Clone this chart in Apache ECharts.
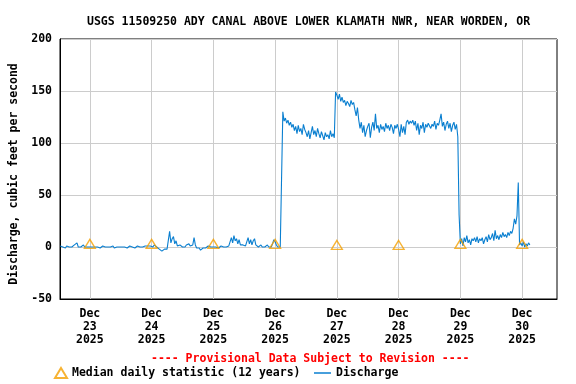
<!DOCTYPE html>
<html><head><meta charset="utf-8">
<script src="https://cdn.jsdelivr.net/npm/echarts@6/dist/echarts.min.js"></script>
<style>html,body{margin:0;padding:0;background:#fff}#c{width:576px;height:384px}</style>
</head><body><div id="c"></div>
<script>
const titleText = 'USGS 11509250 ADY CANAL ABOVE LOWER KLAMATH NWR, NEAR WORDEN, OR';
const noteText = '---- Provisional Data Subject to Revision ----';
const yAxisName = 'Discharge, cubic feet per second';
const medianName = 'Median daily statistic (12 years)';
const seriesName = 'Discharge';
const dayLabels = ['Dec\n23\n2025','Dec\n24\n2025','Dec\n25\n2025','Dec\n26\n2025','Dec\n27\n2025','Dec\n28\n2025','Dec\n29\n2025','Dec\n30\n2025'];
const dayHours = [0, 24, 48, 72, 96, 120, 144, 168];
const yMin = -50, yMax = 200, yStep = 50;
const xMinHours = -11.6, xMaxHours = 181.55;

// discharge, 30-minute readings, starting Dec 22 12:30 (hours relative to Dec 23 00:00)
const START_HOUR = -11.5;
const STEP_HOURS = 0.5;
const dec22 = [1,2,0,0,-1,1,0,0,1,0,1,2,1,4,0,1,0,1,2,0,1,0,1];
const dec23 = [0,1,0,-1,0,1,0,0,-1,0,1,0,0,-1,0,1,0,0,1,-1,0,0,-1,0,1,0,-1,0,0,-1,0,1,0,0,-1,-1,0,1,0,0,-1,0,0,1,0,1,0,1];
const dec24 = [1,0,2,1,0,-1,-2,-3,-4,-3,-2,-3,-2,-1,15,4,8,10,3,6,1,0,2,1,0,1,0,2,1,3,1,0,2,9,2,-1,-2,-1,-3,-2,-1,-2,-1,0,1,0,0,1];
const dec25 = [0,1,0,0,-1,0,1,0,0,1,0,0,1,2,9,4,11,6,8,3,7,2,1,2,1,1,2,9,3,7,2,6,8,2,1,0,1,2,0,1,0,1,2,0,1,0,3,7];
const dec26 = [5,2,0,1,0,0,130,121,124,119,122,117,120,115,118,112,116,109,117,111,114,108,118,113,110,106,112,104,110,116,108,112,106,114,109,105,111,107,103,110,106,108,104,112,106,109,105,149];
const dec27 = [146,142,147,140,144,139,141,136,140,138,135,141,137,139,132,126,134,122,114,120,110,117,106,112,116,119,105,115,120,112,128,114,117,110,118,113,116,111,119,114,117,112,118,115,109,117,114,118];
const dec28 = [113,106,118,110,116,108,120,122,118,121,119,122,117,121,112,119,108,117,114,120,110,118,115,119,120,114,118,116,121,113,119,117,122,128,116,120,112,118,121,114,119,111,117,120,113,118,106,31];
const dec29 = [3,8,1,9,5,11,4,7,2,8,6,9,5,10,4,8,6,9,3,7,10,5,12,7,9,13,6,16,8,11,7,12,9,14,10,12,9,14,11,15,13,18,27,22,30,62,2,4];
const dec30 = [1,5,0,3,1,4,2];

const medianValues = [3, 3, 3, 3, 2, 2, 3, 3];

const discharge = [].concat(dec22, dec23, dec24, dec25, dec26, dec27, dec28, dec29, dec30);
const dischargeData = discharge.map((v, i) => [START_HOUR + i * STEP_HOURS, v]);
const medianData = dayHours.map((h, i) => [h, medianValues[i]]);

const FONT = 'DejaVu Sans Mono';
const txt = { fontFamily: FONT, fontWeight: 'bold', fontSize: 11.5, color: '#000' };
const BLUE = '#0a7fd0';
const ORANGE = '#f5a000';

const chart = echarts.init(document.getElementById('c'), null, { renderer: 'canvas' });
chart.setOption({
  animation: false,
  backgroundColor: '#fff',
  title: [
    { text: titleText, left: 82, top: 11, textStyle: Object.assign({}, txt) },
    { text: noteText, left: 146, top: 348, textStyle: Object.assign({}, txt, { color: '#ff0000' }) }
  ],
  legend: [
    { data: [{ name: medianName, icon: 'triangle' }], left: 54, top: 367, itemWidth: 12, itemHeight: 10,
      textStyle: Object.assign({}, txt), padding: 0 },
    { data: [{ name: seriesName, icon: 'rect', itemStyle: { color: BLUE } }], left: 314, top: 367, itemWidth: 17, itemHeight: 1.5,
      textStyle: Object.assign({}, txt), padding: 0 }
  ],
  grid: { left: 58, right: 19, top: 39, bottom: 85, show: true, borderColor: '#000', borderWidth: 1, containLabel: false },
  xAxis: {
    type: 'value', min: xMinHours, max: xMaxHours,
    axisLine: { show: true, onZero: false, lineStyle: { color: '#000' } },
    axisTick: { show: false, customValues: dayHours },
    axisLabel: Object.assign({}, txt, { customValues: dayHours, margin: 9, lineHeight: 13,
      formatter: v => dayLabels[dayHours.indexOf(Math.round(v))] || '' }),
    splitLine: { show: true, lineStyle: { color: '#cccccc', width: 1 } }
  },
  yAxis: {
    type: 'value', min: yMin, max: yMax, interval: yStep,
    name: yAxisName, nameLocation: 'middle', nameGap: 40, nameRotate: 90,
    nameTextStyle: Object.assign({}, txt, { padding: [0, 10, 0, 0] }),
    axisLine: { show: true, onZero: false, lineStyle: { color: '#000' } },
    axisTick: { show: false },
    axisLabel: Object.assign({}, txt, { margin: 8 }),
    splitLine: { show: true, lineStyle: { color: '#cccccc', width: 1 } }
  },
  series: [
    { name: seriesName, type: 'line', data: dischargeData, symbol: 'none', showSymbol: false,
      lineStyle: { color: BLUE, width: 1.1 }, itemStyle: { color: BLUE }, z: 2 },
    { name: medianName, type: 'scatter', data: medianData, symbol: 'triangle', symbolSize: [11, 9],
      itemStyle: { color: 'rgba(255,255,255,0)', borderColor: ORANGE, borderWidth: 1.3 }, z: 3 }
  ]
});
</script></body></html>
